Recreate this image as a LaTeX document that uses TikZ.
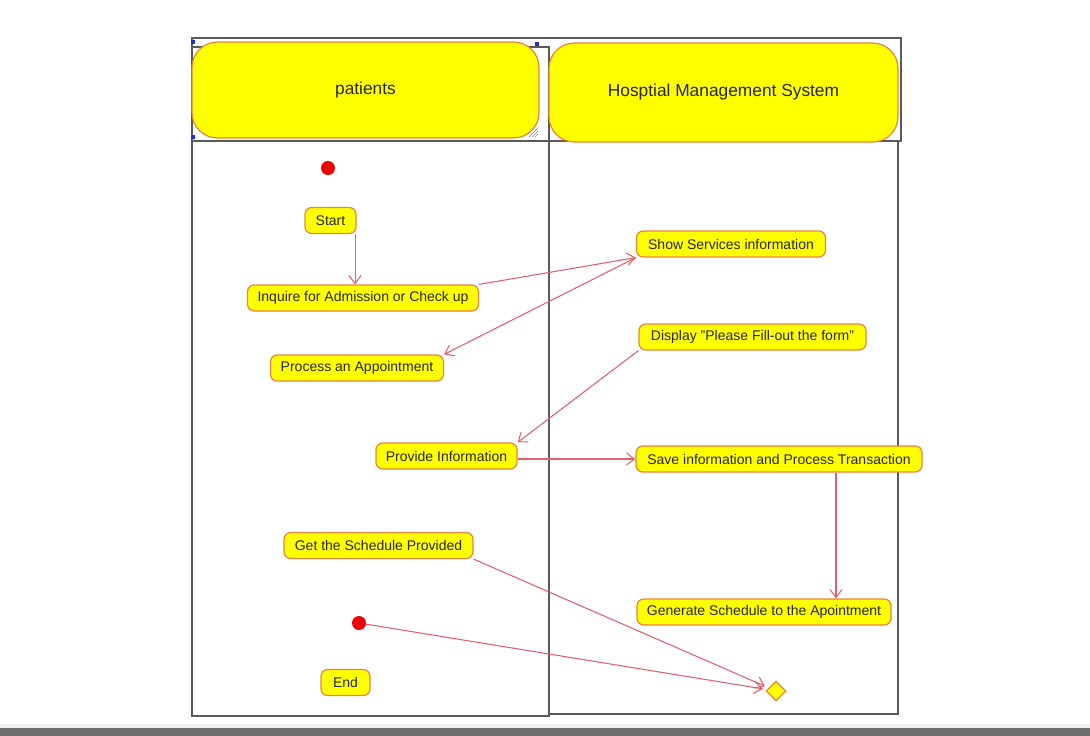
\documentclass[tikz,border=0pt]{standalone}
\usepackage{fontspec}
\setmainfont{Liberation Sans}
\usetikzlibrary{arrows.meta,shapes.geometric,calc}
\definecolor{actfill}{HTML}{FFFF00}
\definecolor{actline}{HTML}{E8843C}
\definecolor{flowc}{HTML}{E0606E}
\definecolor{framec}{HTML}{5A5A5A}
\definecolor{dotc}{HTML}{EE0000}
\definecolor{selc}{HTML}{2030D0}
\definecolor{barlight}{HTML}{F0F0F0}
\definecolor{bardark}{HTML}{6D6D6D}
\begin{document}
\begin{tikzpicture}[x=0.75pt,y=-0.75pt,
  act/.style={draw=actline, fill=actfill, line width=0.9pt, rounded corners=5pt,
    minimum height=19.5pt, inner sep=0pt, font=\fontsize{10.5}{12}\selectfont, text=black!85},
  wd/.style={minimum width=#1*0.75pt},
  lanehead/.style={draw=actline, fill=actfill, line width=0.9pt, rounded corners=19pt,
    inner sep=0pt, font=\fontsize{13}{15}\selectfont, text=black!85},
  flow/.style={draw=flowc, line width=0.8pt, -{Straight Barb[length=6pt,width=9pt]}},
  frame/.style={draw=framec, line width=1pt},
  dot/.style={circle, fill=dotc, minimum size=10.5pt, inner sep=0pt},
  seldot/.style={fill=selc, minimum size=2.5pt, inner sep=0pt},
  decision/.style={diamond, aspect=1, draw=actline, fill=actfill, line width=0.9pt,
    minimum size=15pt, inner sep=0pt}]
\useasboundingbox (0,0) rectangle (1090,736);
% bottom bar
\fill[barlight] (0,724) rectangle (1090,728);
\fill[bardark] (0,728) rectangle (1090,736);
% swimlane frames
\draw[frame] (192,38) rectangle (901,141);
\draw[frame] (192,47) rectangle (549,716);
\draw[frame] (549,141) rectangle (898,714);
% lane headers
\node[lanehead, minimum width=260.25pt, minimum height=72pt] (lp) at (365.5,90) {patients};
\node[lanehead, minimum width=261.75pt, minimum height=74.25pt] (lh) at (723.5,92.5) {Hosptial Management System};
% resize hatch and selection handles
\draw[framec!70, line width=0.5pt] (529,137) -- (538,128) (532,137) -- (538,131) (535,137) -- (538,134);
\node[seldot] (h1) at (193,42) {};
\node[seldot] (h2) at (537,44) {};
\node[seldot] (h3) at (193,137) {};
% activities
\node[dot] (idot) at (328,168) {};
\node[act, wd=51] (start) at (330.5,220.5) {Start};
\node[act, wd=231] (inq) at (363,298) {Inquire for Admission or Check up};
\node[act, wd=173] (proc) at (357,368) {Process an Appointment};
\node[act, wd=189] (show) at (731,244) {Show Services information};
\node[act, wd=227] (disp) at (752.5,337) {Display "Please Fill-out the form"};
\node[act, wd=141] (prov) at (446.5,456) {Provide Information};
\node[act, wd=286] (save) at (779,459) {Save information and Process Transaction};
\node[act, wd=189] (get) at (378.5,545.5) {Get the Schedule Provided};
\node[act, wd=254] (gen) at (764,612) {Generate Schedule to the Apointment};
\node[dot] (fdot) at (359,623) {};
\node[act, wd=49] (endn) at (345.5,682.5) {End};
\node[decision] (dia) at (776,691) {};
% flows
\coordinate (s1) at ([xshift=18.4pt]start.south);
\draw[flow] (s1) -- (s1 |- inq.north);
\draw[flow] (inq.north east) -- (show.south west);
\draw[flow] (show.south west) -- (proc.north east);
\draw[flow] (disp.south west) -- (prov.north east);
\draw[flow] (prov.east |- save.west) -- (save.west);
\coordinate (s2) at ([xshift=42.75pt]save.south);
\draw[flow] (s2) -- (s2 |- gen.north);
\draw[flow, shorten >=3pt] (get.south east) -- (dia);
\draw[flow, shorten >=3pt] (fdot) -- (dia);
\end{tikzpicture}
\end{document}
